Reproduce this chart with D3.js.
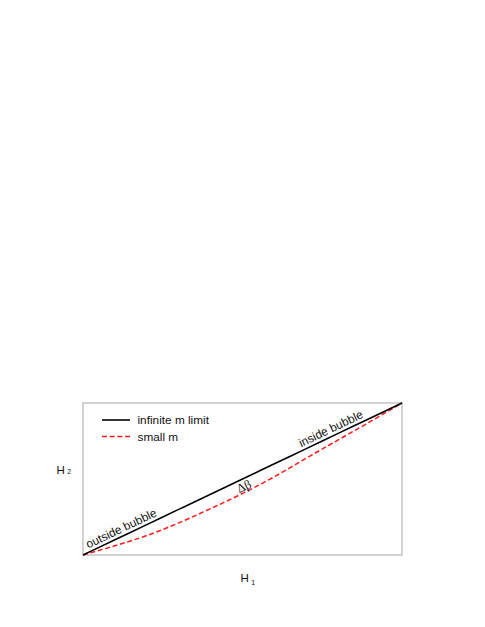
<!DOCTYPE html>
<html><head><meta charset="utf-8">
<script src="https://cdn.jsdelivr.net/npm/d3@7"></script>
<style>body{margin:0;background:#fff}</style>
</head><body>
<svg id="c" width="485" height="627"></svg>
<script>
// ---- data ----
const h1 = [0, 0.1, 0.2, 0.3, 0.4, 0.5, 0.6, 0.7, 0.8, 0.9, 1.0];
const infiniteM = [0, 0.1, 0.2, 0.3, 0.4, 0.5, 0.6, 0.7, 0.8, 0.9, 1.0];
const smallM = [0, 0.061, 0.128, 0.211, 0.305, 0.405, 0.515, 0.637, 0.757, 0.877, 1.0];
const seriesNames = ["infinite m limit", "small m"];
const regionLabels = ["outside bubble", "inside bubble"];
const regionAt = [0.13, 0.787];
const deltaLabel = "Δβ";
const deltaAt = 0.495;

// ---- layout ----
const svg = d3.select("#c");
const mL = 83, mR = 402, mT = 403, mB = 555;
const x = d3.scaleLinear().domain([0, 1]).range([mL, mR]);
const y = d3.scaleLinear().domain([0, 1]).range([mB, mT]);
const font = "'Liberation Sans', Arial, Helvetica, sans-serif";

svg.append("rect").attr("x", mL).attr("y", mT)
  .attr("width", mR - mL).attr("height", mB - mT)
  .attr("fill", "none").attr("stroke", "#a6a6a6").attr("stroke-width", 1);

const line = d3.line().x((d, i) => x(h1[i])).y(d => y(d)).curve(d3.curveMonotoneX);

svg.append("path").datum(smallM).attr("d", line)
  .attr("fill", "none").attr("stroke", "#ff1a1a").attr("stroke-width", 1.5)
  .attr("stroke-dasharray", "5,2.7");
svg.append("path").datum(infiniteM).attr("d", line)
  .attr("fill", "none").attr("stroke", "#000").attr("stroke-width", 1.6);

// rotation angle along the black line
const ang = Math.atan2(y(1) - y(0), x(1) - x(0)) * 180 / Math.PI;

regionLabels.forEach((t, i) => {
  const px = x(regionAt[i]), py = y(regionAt[i]);
  svg.append("text").text(t)
    .attr("transform", `translate(${px},${py}) rotate(${ang})`)
    .attr("dy", -3.5).attr("text-anchor", "middle")
    .attr("font-family", font).attr("font-size", 11.8).attr("fill", "#111");
});

{
  const px = x(deltaAt), py = y(deltaAt);
  svg.append("text").text(deltaLabel)
    .attr("transform", `translate(${px},${py}) rotate(${ang})`)
    .attr("dy", 11.5).attr("text-anchor", "middle")
    .attr("font-family", "'Liberation Serif', 'DejaVu Serif', serif")
    .attr("font-size", 12.5).attr("fill", "#111");
}

// legend
const leg = svg.append("g");
seriesNames.forEach((n, i) => {
  const ly = 420 + i * 16.5;
  leg.append("line").attr("x1", 102).attr("x2", 130).attr("y1", ly).attr("y2", ly)
    .attr("stroke", i === 0 ? "#000" : "#ff1a1a")
    .attr("stroke-width", i === 0 ? 1.6 : 1.5)
    .attr("stroke-dasharray", i === 0 ? null : "5,2.7");
  leg.append("text").text(n).attr("x", 137.5).attr("y", ly + 4)
    .attr("font-family", font).attr("font-size", 11.8).attr("fill", "#111");
});

// axis labels
function axisLabel(px, py, sub, subDy) {
  const t = svg.append("text").attr("x", px).attr("y", py)
    .attr("font-family", font).attr("font-size", 11.5).attr("fill", "#111");
  t.append("tspan").text("H");
  t.append("tspan").text(sub).attr("font-size", 7).attr("dx", 2.5).attr("dy", subDy);
}
axisLabel(240.5, 581.7, "1", 3.5);
axisLabel(56.5, 474, "2", 0);
</script>
</body></html>
